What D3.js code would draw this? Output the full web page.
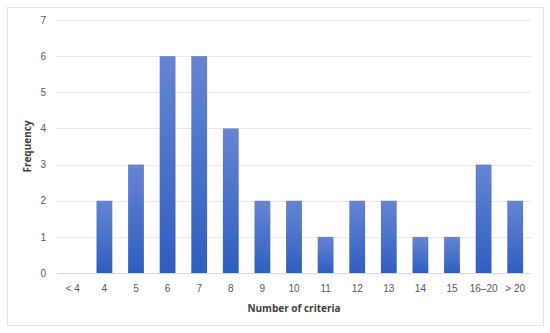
<!DOCTYPE html>
<html>
<head>
<meta charset="utf-8">
<script src="https://cdn.jsdelivr.net/npm/d3@7"></script>
<style>
  body { margin: 0; background: #fff; }
  svg { display: block; font-family: "Open Sans", "Noto Sans", sans-serif; }
</style>
</head>
<body>
<svg id="chart" width="550" height="333"></svg>
<script>
const categories = ['< 4', '4', '5', '6', '7', '8', '9', '10', '11', '12', '13', '14', '15', '16–20', '> 20'];
const frequencies = [0, 2, 3, 6, 6, 4, 2, 2, 1, 2, 2, 1, 1, 3, 2];
const yTicks = [0, 1, 2, 3, 4, 5, 6, 7];

const svg = d3.select('#chart');
const margin = {left: 57, right: 19, top: 20, bottom: 60};
const width = 550, height = 333;

// outer frame
svg.append('rect')
  .attr('x', 7.5).attr('y', 7.5)
  .attr('width', 536).attr('height', 318)
  .attr('fill', '#fff')
  .attr('stroke', '#e3e3e3');

const x = d3.scaleBand()
  .domain(categories)
  .range([margin.left, width - margin.right])
  .paddingInner(0.5)
  .paddingOuter(0.25);

const y = d3.scaleLinear()
  .domain([0, 7])
  .range([height - margin.bottom, margin.top]);

const grad = svg.append('defs').append('linearGradient')
  .attr('id', 'barGrad')
  .attr('x1', 0).attr('y1', 0).attr('x2', 0).attr('y2', 1);
grad.append('stop').attr('offset', '0%').attr('stop-color', '#6585d2');
grad.append('stop').attr('offset', '100%').attr('stop-color', '#2f5ec0');

// gridlines
svg.append('g')
  .selectAll('line')
  .data(yTicks)
  .join('line')
  .attr('x1', margin.left).attr('x2', width - margin.right)
  .attr('y1', d => Math.round(y(d)) + 0.5)
  .attr('y2', d => Math.round(y(d)) + 0.5)
  .attr('stroke', d => d === 0 ? '#d9d9d9' : '#e8e8e8');

// y axis labels
const yAxis = d3.axisLeft(y).tickValues(yTicks).tickFormat(d3.format('d')).tickSize(0).tickPadding(11);
svg.append('g')
  .attr('transform', `translate(${margin.left},0)`)
  .call(yAxis)
  .call(g => g.select('.domain').remove())
  .call(g => g.selectAll('text')
    .attr('fill', '#595959')
    .attr('font-size', 10));

// x axis labels
const xAxis = d3.axisBottom(x).tickSize(0).tickPadding(12);
svg.append('g')
  .attr('transform', `translate(0,${y(0)})`)
  .call(xAxis)
  .call(g => g.select('.domain').remove())
  .call(g => g.selectAll('text')
    .attr('fill', '#595959')
    .attr('font-size', 10));

// bars
svg.append('g')
  .selectAll('rect')
  .data(frequencies.map((v, i) => ({cat: categories[i], v})).filter(d => d.v > 0))
  .join('rect')
  .attr('x', d => x(d.cat))
  .attr('width', x.bandwidth())
  .attr('y', d => y(d.v))
  .attr('height', d => y(0) - y(d.v))
  .attr('fill', 'url(#barGrad)');

// axis titles
svg.append('text')
  .attr('x', (margin.left + width - margin.right) / 2)
  .attr('y', 312)
  .attr('text-anchor', 'middle')
  .attr('fill', '#404040')
  .attr('font-size', 10)
  .attr('font-weight', 'bold')
  .text('Number of criteria');

svg.append('text')
  .attr('transform', `translate(31,${(margin.top + y(0)) / 2}) rotate(-90)`)
  .attr('text-anchor', 'middle')
  .attr('fill', '#404040')
  .attr('font-size', 10)
  .attr('font-weight', 'bold')
  .text('Frequency');
</script>
</body>
</html>
